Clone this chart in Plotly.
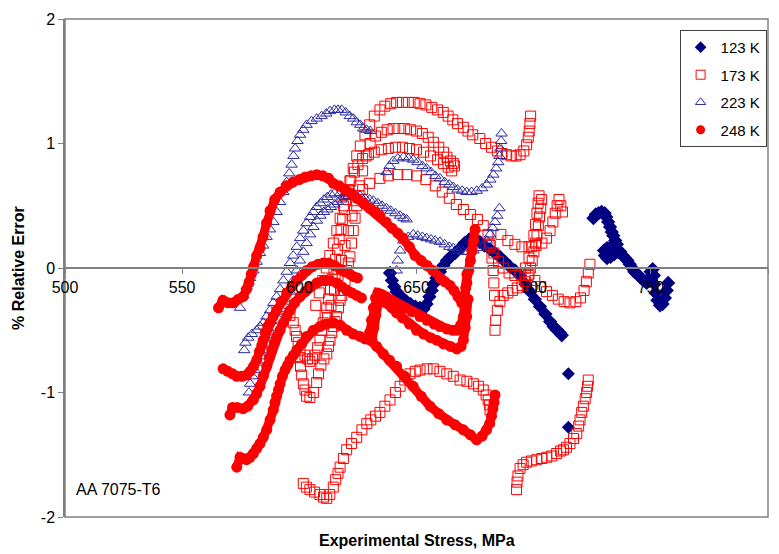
import plotly.graph_objects as go

# ---------------- 123 K (filled navy diamonds) ----------------
k123_a_x = [638.7, 639.5, 640.5, 641.5, 643, 644.5, 645.8, 647.5, 649.5, 651.5, 653, 654.3, 655.5, 656.5, 657.2,
            658.5, 660, 661.5, 663, 664.5, 666.5, 668.6, 670.5, 672.5, 674.5, 677, 679, 681.4, 683.5, 685.6,
            687.8, 689.9, 692, 694.2, 696.5, 698.5, 700.5, 702.7, 705, 707, 708.5, 710, 711.2, 712]
k123_a_y = [-0.04, -0.1, -0.15, -0.19, -0.22, -0.25, -0.27, -0.29, -0.31, -0.32, -0.33, -0.29, -0.23, -0.18, -0.13,
            -0.08, -0.03, 0.02, 0.06, 0.09, 0.12, 0.16, 0.2, 0.23, 0.24, 0.21, 0.18, 0.15, 0.12, 0.09,
            0.05, 0.01, -0.02, -0.06, -0.13, -0.19, -0.25, -0.31, -0.37, -0.43, -0.47, -0.5, -0.52, -0.54]
k123_b_x = [725.5, 726.5, 727.7, 729, 730.3, 731, 731.8, 732.6, 733.3, 734, 734.8, 735.5, 734.2, 732.8, 731.3,
            730, 730.4, 731.3, 732.8, 734.3, 735.8, 737, 738, 739, 740, 741, 742, 743, 744.2, 745.4,
            746.8, 748.2, 749.3, 749.9, 750.8, 751.3, 751.5, 752, 752.8, 753.9, 755, 756, 756.8, 757.4]
k123_b_y = [0.40, 0.43, 0.44, 0.45, 0.44, 0.41, 0.37, 0.33, 0.29, 0.26, 0.22, 0.19, 0.18, 0.17, 0.16,
            0.14, 0.1, 0.08, 0.09, 0.11, 0.13, 0.13, 0.1, 0.08, 0.06, 0.03, 0.0, -0.03, -0.05, -0.07,
            -0.1, -0.12, -0.08, -0.03, -0.01, -0.06, -0.13, -0.2, -0.26, -0.3, -0.29, -0.24, -0.18, -0.12]
k123_c_x = [714.8, 714.8]
k123_c_y = [-0.85, -1.28]

# ---------------- 173 K (open red squares) ----------------
k173_a_x = [607, 608.5, 610, 611.5, 613, 614.5, 616, 617.4, 618.8, 620.2, 621.6, 623, 624.5, 626, 628, 630, 632,
            634.4, 636.5, 639, 641.5, 644, 646.5, 649, 651.5, 654, 656.5, 659, 661.4, 663.5, 665.5, 667.5,
            670, 672, 674, 677, 679.5, 682, 684.5, 686.5, 688.5, 690.5, 692.5, 694.2, 695.8, 697, 697.7,
            698.1, 698.4, 698.7]
k173_a_y = [-0.30, -0.2, -0.1, 0.0, 0.1, 0.2, 0.3, 0.4, 0.5, 0.6, 0.7, 0.8, 0.9, 0.98, 1.07, 1.15, 1.22,
            1.27, 1.3, 1.32, 1.33, 1.33, 1.33, 1.33, 1.32, 1.31, 1.29, 1.27, 1.25, 1.22, 1.19, 1.16,
            1.13, 1.1, 1.07, 1.04, 1.0, 0.97, 0.94, 0.92, 0.91, 0.9, 0.9, 0.91, 0.94, 0.99, 1.05,
            1.1, 1.16, 1.22]
k173_b_x = [612, 613.5, 615, 616.5, 618, 619.5, 621, 622.5, 624, 625.5, 627, 628.5, 630.2, 632.5, 635, 637.5,
            640, 642.5, 645, 647.5, 650, 652.5, 655, 657.2, 659.5, 661.5, 663, 664.5, 665.7, 666.2]
k173_b_y = [-0.4, -0.3, -0.18, -0.06, 0.06, 0.18, 0.3, 0.42, 0.54, 0.66, 0.78, 0.9, 1.0, 1.06, 1.09, 1.11,
            1.12, 1.12, 1.12, 1.11, 1.1, 1.08, 1.05, 1.01, 0.97, 0.93, 0.89, 0.86, 0.84, 0.82]
k173_c_x = [602.4, 603.5, 604.5, 605.6, 606.7, 607.8, 608.8, 609.5, 610.2, 611, 611.7, 612.5, 613.3, 614,
            614.8, 615.5, 616.3, 617, 617.8, 618.5, 619.3, 620, 621, 622, 623.5, 625, 627, 629.5, 632, 635,
            638, 641, 644, 647, 650, 653, 656, 659, 661.5, 663.5, 665]
k173_c_y = [-0.7, -0.73, -0.75, -0.73, -0.7, -0.64, -0.58, -0.5, -0.44, -0.38, -0.32, -0.25, -0.17, -0.09,
            -0.01, 0.07, 0.15, 0.23, 0.31, 0.39, 0.47, 0.55, 0.63, 0.7, 0.77, 0.83, 0.88, 0.91, 0.93, 0.95,
            0.96, 0.97, 0.97, 0.96, 0.95, 0.93, 0.9, 0.87, 0.84, 0.81, 0.78]
k173_d_x = [594.6, 596, 597.4, 598.2, 598.8, 599.5, 600.3, 600.3, 600.5, 601, 601.7, 602.4, 603.1, 604.5, 606,
            607.4, 608.2, 609.2, 610.5, 611.7, 612.5, 613.1, 613.8, 614.5, 615.2, 615.9, 616.7, 617.4, 618.1,
            618.8, 619.5, 620.2, 620.9, 621.6, 622.3, 623, 623.8, 624.5, 625.5, 627, 630, 634.4, 638, 642,
            646, 650, 654, 658, 661, 664, 667, 670, 673, 676, 678.5, 680.5, 681.5, 682.2, 682.7, 683, 683.3]
k173_d_y = [-0.31, -0.38, -0.44, -0.5, -0.55, -0.6, -0.66, -0.72, -0.79, -0.86, -0.93, -0.98, -1.03, -1.04, -1.0,
            -0.92, -0.85, -0.78, -0.73, -0.69, -0.63, -0.58, -0.52, -0.47, -0.43, -0.39, -0.32, -0.26, -0.22,
            -0.18, -0.1, -0.02, 0.04, 0.09, 0.2, 0.3, 0.4, 0.5, 0.58, 0.63, 0.68, 0.72, 0.74, 0.75,
            0.75, 0.74, 0.71, 0.66, 0.61, 0.56, 0.51, 0.47, 0.43, 0.39, 0.34, 0.27, 0.18, 0.08, -0.02, -0.12, -0.22]
k173_e_x = [683.5, 683.8, 684.5, 685.6, 687, 689, 691, 693, 695, 696.5, 697.7, 698.6, 699.4, 700.1, 700.8,
            701.4, 702, 702.5, 703, 703.4]
k173_e_y = [-0.5, -0.42, -0.34, -0.27, -0.22, -0.2, -0.18, -0.16, -0.14, -0.11, -0.06, 0.0, 0.06, 0.13, 0.2,
            0.27, 0.34, 0.41, 0.48, 0.55]
k173_f_x = [681, 683, 685, 687, 689.5, 692, 694.5, 696.5, 698, 699.2, 700.1, 700.8, 701.4, 701.9, 702.3]
k173_f_y = [0.2, 0.12, 0.05, 0.0, -0.04, -0.06, -0.05, 0.0, 0.08, 0.17, 0.26, 0.35, 0.44, 0.52, 0.58]
k173_g_x = [686, 689, 692, 695, 698, 701, 703.5, 705.5, 707, 708.2, 709.2, 710, 710.8, 711.6, 712.3]
k173_g_y = [0.27, 0.22, 0.19, 0.17, 0.17, 0.18, 0.2, 0.24, 0.3, 0.37, 0.44, 0.5, 0.55, 0.5, 0.45]
k173_h_x = [698, 700.5, 703, 705.5, 708, 710.5, 713, 715.5, 718, 720, 721.5, 722.5, 723.3, 724]
k173_h_y = [-0.05, -0.1, -0.15, -0.19, -0.22, -0.25, -0.27, -0.28, -0.27, -0.24, -0.18, -0.11, -0.04, 0.03]
k173_i_x = [692.7, 692.9, 693.3, 694.2, 695.5, 697, 699, 701.3, 703.5, 705.6, 707.7, 709.8, 711.5, 712.7, 714,
            715.5, 717, 718.4, 719.2, 719.8, 720.5, 721.2, 722, 722.6, 723, 723.3]
k173_i_y = [-1.78, -1.72, -1.67, -1.61, -1.58, -1.56, -1.55, -1.54, -1.53, -1.52, -1.51, -1.49, -1.47, -1.46,
            -1.44, -1.41, -1.37, -1.33, -1.27, -1.22, -1.16, -1.11, -1.05, -1.0, -0.95, -0.9]
k173_j_x = [601.7, 603, 604.5, 606.5, 608.8, 610.3, 611.7, 613, 614.5, 615.5, 616.5, 617.4, 618.8, 620.2, 622.3,
            624.5, 626.7, 628.8, 630.5, 632.5, 634.4, 636.5, 638.7, 641, 643, 645, 647.2, 649.5, 651.5, 654.5,
            657.2, 660, 662.9, 665.7, 668.6, 671.5, 674.3, 676.5, 678.5, 679.7, 680.6, 681.2, 681.4]
k173_j_y = [-1.73, -1.76, -1.78, -1.8, -1.82, -1.84, -1.85, -1.82, -1.76, -1.7, -1.65, -1.6, -1.53, -1.46, -1.41,
            -1.36, -1.3, -1.25, -1.22, -1.19, -1.16, -1.11, -1.06, -1.0, -0.95, -0.9, -0.85, -0.83, -0.82, -0.81,
            -0.81, -0.83, -0.85, -0.87, -0.9, -0.91, -0.93, -0.95, -0.98, -1.02, -1.06, -1.1, -1.14]

# ---------------- 223 K (open blue triangles) ----------------
k223_a_x = [574.7, 576.1, 577.5, 579, 580.4, 581.8, 583.2, 584.6, 586, 587.5, 588.9, 590.3, 591.8, 593.2, 594.6,
            595.7, 596.7, 597.5, 598.2, 599.2, 600.3, 601.7, 603.1, 605.2, 607.4, 609.5, 611.5, 613.1, 615,
            616.5, 618.1, 619.8, 621.5, 623, 624.5, 626, 627.3, 628.7, 630.2]
k223_a_y = [-0.32, -0.22, -0.15, -0.08, -0.02, 0.05, 0.12, 0.18, 0.25, 0.31, 0.37, 0.45, 0.53, 0.61, 0.69,
            0.76, 0.83, 0.9, 0.96, 1.02, 1.07, 1.11, 1.15, 1.18, 1.2, 1.22, 1.24, 1.26, 1.27,
            1.27, 1.27, 1.25, 1.22, 1.2, 1.17, 1.15, 1.12, 1.11, 1.10]
k223_b_x = [576.5, 577, 578.2, 579.8, 581.8, 583.2, 584.6, 586, 587.5, 588.9, 590.3, 591.8, 593.2, 594.6, 596,
            597.4, 598.9, 600.3, 601.7, 603.1, 604.6, 606, 607.4, 609, 610.5, 612, 613.5, 615, 617.4, 619.5,
            621.5, 623.5, 625.9, 628, 630, 631.6, 633.5, 635.3, 637.2, 639, 641, 643, 644.5, 645.8]
k223_b_y = [-0.66, -0.6, -0.56, -0.53, -0.5, -0.47, -0.44, -0.39, -0.34, -0.28, -0.23, -0.17, -0.1, -0.03, 0.04,
            0.1, 0.17, 0.24, 0.3, 0.36, 0.41, 0.45, 0.49, 0.52, 0.55, 0.57, 0.59, 0.6, 0.6, 0.6,
            0.6, 0.59, 0.58, 0.56, 0.55, 0.54, 0.52, 0.5, 0.48, 0.46, 0.44, 0.42, 0.4, 0.39]
k223_c_x = [578.5, 579, 580, 581, 582.5, 584, 585.5, 587, 588.5, 590, 591.5, 593, 594.6, 596, 597.4, 598.9,
            600.3, 601.7, 603.1, 604.6, 606, 607.5, 609, 610.5, 612, 613.5, 615, 616.5, 618, 619.5, 621]
k223_c_y = [-1.0, -0.93, -0.87, -0.82, -0.76, -0.71, -0.66, -0.6, -0.54, -0.48, -0.42, -0.35, -0.27, -0.19,
            -0.1, -0.02, 0.06, 0.13, 0.2, 0.27, 0.33, 0.38, 0.42, 0.45, 0.47, 0.49, 0.51, 0.53, 0.55, 0.57, 0.58]
k223_d_x = [637.2, 638.5, 640.1, 642, 644.4, 646.5, 648.6, 650.5, 652.5, 654.3, 656.2, 658, 660, 662, 664,
            665.7, 667.5, 669.5, 671.4, 673.5, 675.7, 678, 680, 681.5, 682.8, 684, 684.9, 685.4, 685.8, 686.1, 686.3]
k223_d_y = [0.77, 0.82, 0.86, 0.88, 0.89, 0.88, 0.87, 0.85, 0.82, 0.8, 0.77, 0.74, 0.72, 0.69, 0.67,
            0.65, 0.63, 0.62, 0.61, 0.61, 0.62, 0.64, 0.67, 0.71, 0.75, 0.8, 0.85, 0.9, 0.96, 1.02, 1.08]
k223_e_x = [641.5, 642, 643, 644.4, 646.5, 648.6, 650.5, 652.5, 654.3, 656.2, 658, 660, 662, 664, 665.7, 667.8,
            670, 672, 674.3, 676.5, 678.5, 680, 681.4, 682.5, 683.5, 684.5, 685.4]
k223_e_y = [-0.02, 0.06, 0.14, 0.22, 0.25, 0.27, 0.26, 0.25, 0.24, 0.23, 0.22, 0.21, 0.19, 0.17, 0.16, 0.14,
            0.13, 0.13, 0.14, 0.16, 0.18, 0.22, 0.27, 0.32, 0.37, 0.42, 0.48]

# ---------------- 248 K (filled red circles) ----------------
k248_a_x = [565.5, 567.4, 569.5, 571.7, 574, 576, 577.5, 578.5, 579.5, 580.5, 581.8, 583.2, 584.5, 586, 587.5,
            589.5, 591.8, 594.5, 597.3, 600, 602.5, 605, 607.5, 610, 612.5, 614.5, 617, 619.5, 622, 624.6,
            627.5, 630.2, 632.5, 634.4, 637, 639.5, 642, 644.2, 647, 649.4, 652, 654.5, 657, 660, 662, 664.3,
            666, 667.7, 669.3, 670.5, 671.5, 672.3, 673, 673.7, 674.4, 675]
k248_a_y = [-0.32, -0.26, -0.28, -0.28, -0.25, -0.23, -0.17, -0.12, -0.05, 0.01, 0.1, 0.16, 0.25, 0.36, 0.46,
            0.55, 0.61, 0.66, 0.69, 0.71, 0.73, 0.74, 0.75, 0.74, 0.72, 0.68, 0.66, 0.63, 0.6, 0.56,
            0.52, 0.48, 0.45, 0.42, 0.37, 0.32, 0.28, 0.24, 0.17, 0.1, 0.06, 0.02, -0.02, -0.08, -0.11, -0.14,
            -0.18, -0.23, -0.28, -0.22, -0.12, -0.02, 0.06, 0.14, 0.22, 0.31]
k248_b_x = [567.5, 569.5, 571.5, 573.3, 575.5, 577.5, 579, 580.5, 581.8, 583, 584, 584.6, 585.5, 586.5, 587.5,
            588.8, 590.3, 592.3, 594.6, 596.8, 598.9, 601, 603.1, 605.5, 608, 610.2, 612.5, 615, 617.4, 619.5,
            621.5, 623.2, 624.8]
k248_b_y = [-0.81, -0.83, -0.85, -0.87, -0.87, -0.86, -0.83, -0.79, -0.74, -0.67, -0.62, -0.58, -0.52, -0.47,
            -0.44, -0.39, -0.34, -0.27, -0.2, -0.15, -0.1, -0.06, -0.02, 0.01, 0.03, 0.04, 0.04, 0.02, -0.01,
            -0.03, -0.05, -0.07, -0.08]
k248_c_x = [570.4, 571.5, 573.5, 576, 578, 580.4, 581.8, 583.2, 584.6, 586.1, 587.2, 588.2, 589.3, 590.3, 591.8,
            593.2, 594.6, 596, 598, 600.3, 602.5, 604.6, 607.5, 610.2, 613, 615.9, 618, 620.2, 622.5, 624.5, 626.5]
k248_c_y = [-1.18, -1.12, -1.12, -1.13, -1.11, -1.06, -1.01, -0.95, -0.87, -0.79, -0.72, -0.66, -0.6, -0.55,
            -0.5, -0.44, -0.39, -0.34, -0.28, -0.23, -0.19, -0.15, -0.12, -0.1, -0.1, -0.12, -0.15, -0.18, -0.2,
            -0.22, -0.24]
k248_d_x = [630, 630.8, 631.6, 632.5, 633.5, 635, 637, 639.5, 642, 645, 648, 651.5, 654.5, 657.5, 660, 663,
            665.5, 667.2, 668.8, 670, 670.5, 671, 671.5]
k248_d_y = [-0.52, -0.42, -0.32, -0.24, -0.2, -0.21, -0.23, -0.26, -0.29, -0.32, -0.35, -0.39, -0.42, -0.45,
            -0.47, -0.49, -0.5, -0.5, -0.46, -0.39, -0.28, -0.16, -0.05]
k248_e_x = [631, 631.8, 632.6, 633.6, 635, 637, 639.5, 641.5, 644, 647, 650, 653, 656, 658.6, 661.5, 664.5,
            667.2, 669, 670, 670.8, 671.4, 672]
k248_e_y = [-0.58, -0.48, -0.38, -0.29, -0.26, -0.28, -0.32, -0.36, -0.4, -0.45, -0.5, -0.53, -0.56, -0.58,
            -0.61, -0.63, -0.65, -0.63, -0.58, -0.48, -0.39, -0.25]
k248_f_x = [573.3, 574.7, 576, 577.5, 579, 580.4, 581.8, 583.2, 584.6, 586.1, 587.5, 588.9, 589.6, 590.3, 591.1,
            591.8, 592.8, 593.9, 595, 596, 597.5, 598.9, 601, 603.1, 606, 608.8, 611.5, 614.5, 617.5, 620.2,
            623, 625.9, 628, 630.2, 633, 635.8, 638.5, 641.5, 645, 648.6, 652, 655.8, 659.5, 662.9, 666.5,
            670, 673, 675.7, 678, 679.9, 681.2, 682, 682.6, 683.1, 683.5]
k248_f_y = [-1.6, -1.52, -1.53, -1.54, -1.52, -1.49, -1.45, -1.41, -1.36, -1.3, -1.22, -1.14, -1.08, -1.03,
            -0.98, -0.93, -0.87, -0.82, -0.78, -0.74, -0.7, -0.66, -0.61, -0.55, -0.5, -0.47, -0.45, -0.44,
            -0.46, -0.5, -0.53, -0.55, -0.57, -0.58, -0.63, -0.69, -0.74, -0.79, -0.87, -0.95, -1.03, -1.11,
            -1.17, -1.22, -1.26, -1.3, -1.34, -1.38, -1.35, -1.3, -1.25, -1.19, -1.13, -1.08, -1.02]

# ---------------- labels ----------------
series_names = ["123 K", "173 K", "223 K", "248 K"]
x_ticks = [500, 550, 600, 650, 700, 750, 800]
y_ticks = [-2, -1, 0, 1, 2]
x_title = "Experimental Stress, MPa"
y_title = "% Relative Error"
note_text = "AA 7075-T6"

NAVY = "#000080"
TRI = "#2a2aa0"
RED = "#ff0000"
FONT = "Liberation Sans, Arial, sans-serif"

fig = go.Figure()

diamond_m = dict(symbol="diamond", size=11, color=NAVY)
square_m = dict(symbol="square-open", size=10, color=RED, line=dict(width=1, color=RED))
tri_m = dict(symbol="triangle-up-open", size=10, color=TRI, line=dict(width=1, color=TRI))
circle_m = dict(symbol="circle", size=11, color=RED)

# 123 K
for xs, ys in [(k123_a_x, k123_a_y), (k123_b_x, k123_b_y)]:
    fig.add_trace(go.Scatter(x=xs, y=ys, mode="lines+markers", marker=diamond_m,
                             line=dict(color=NAVY, width=7), showlegend=False, hoverinfo="skip"))
fig.add_trace(go.Scatter(x=k123_c_x, y=k123_c_y, mode="markers", marker=dict(symbol="diamond", size=10, color=NAVY),
                         showlegend=False, hoverinfo="skip"))
# 173 K
for xs, ys in [(k173_a_x, k173_a_y), (k173_b_x, k173_b_y), (k173_c_x, k173_c_y), (k173_d_x, k173_d_y),
               (k173_e_x, k173_e_y), (k173_f_x, k173_f_y), (k173_g_x, k173_g_y), (k173_h_x, k173_h_y),
               (k173_i_x, k173_i_y), (k173_j_x, k173_j_y)]:
    fig.add_trace(go.Scatter(x=xs, y=ys, mode="markers", marker=square_m, showlegend=False, hoverinfo="skip"))
# 223 K
for xs, ys in [(k223_a_x, k223_a_y), (k223_b_x, k223_b_y), (k223_c_x, k223_c_y), (k223_d_x, k223_d_y),
               (k223_e_x, k223_e_y)]:
    fig.add_trace(go.Scatter(x=xs, y=ys, mode="markers", marker=tri_m, showlegend=False, hoverinfo="skip"))
# 248 K
for xs, ys in [(k248_a_x, k248_a_y), (k248_b_x, k248_b_y), (k248_c_x, k248_c_y), (k248_d_x, k248_d_y),
               (k248_e_x, k248_e_y), (k248_f_x, k248_f_y)]:
    fig.add_trace(go.Scatter(x=xs, y=ys, mode="lines+markers", marker=circle_m,
                             line=dict(color=RED, width=9), showlegend=False, hoverinfo="skip"))

# legend entries
legend_markers = [dict(symbol="diamond", size=9, color=NAVY),
                  dict(symbol="square-open", size=9, color=RED, line=dict(width=1, color=RED)),
                  dict(symbol="triangle-up-open", size=9, color=TRI, line=dict(width=1, color=TRI)),
                  dict(symbol="circle", size=9, color=RED)]
for name, m in zip(series_names, legend_markers):
    fig.add_trace(go.Scatter(x=[None], y=[None], mode="markers", marker=m, name=name,
                             showlegend=True, legendgroup=name))

fig.update_layout(
    width=779, height=554,
    margin=dict(l=65, r=11, t=19, b=37),
    paper_bgcolor="white", plot_bgcolor="white",
    font=dict(family=FONT, size=15, color="black"),
    showlegend=True,
    legend=dict(x=0.998, xanchor="right", y=0.978, yanchor="top",
                bordercolor="#404040", borderwidth=1, bgcolor="white",
                font=dict(family=FONT, size=15), tracegroupgap=5, traceorder="grouped",
                itemwidth=30),
    xaxis=dict(range=[500, 800], tickvals=x_ticks, ticktext=[str(v) for v in x_ticks],
               anchor="free", position=0.5, showline=True, linecolor="#808080", linewidth=1.5,
               ticks="outside", ticklen=5, tickcolor="#808080", showgrid=False, zeroline=False,
               tickfont=dict(family=FONT, size=16, color="black")),
    yaxis=dict(range=[-2, 2], tickvals=y_ticks, ticktext=[str(v) for v in y_ticks],
               showline=True, linecolor="#808080", linewidth=1.5,
               ticks="outside", ticklen=5, tickcolor="#808080", showgrid=False, zeroline=False,
               tickfont=dict(family=FONT, size=16, color="black")),
    shapes=[dict(type="rect", xref="paper", yref="paper", x0=0, x1=1, y0=0, y1=1,
                 line=dict(color="#808080", width=1.5), layer="below")],
    annotations=[
        dict(text="<b>" + x_title + "</b>", xref="paper", yref="paper", x=0.5, y=0,
             xanchor="center", yanchor="middle", yshift=-23, showarrow=False,
             font=dict(family=FONT, size=16, color="black")),
        dict(text="<b>" + y_title + "</b>", xref="paper", yref="paper", x=-0.067, y=0.5,
             xanchor="center", yanchor="middle", textangle=-90, showarrow=False,
             font=dict(family=FONT, size=16, color="black")),
        dict(text=note_text, xref="paper", yref="paper", x=0.013, y=0.055,
             xanchor="left", yanchor="middle", showarrow=False,
             font=dict(family=FONT, size=16, color="black")),
    ],
)

fig.write_html("out.html")
